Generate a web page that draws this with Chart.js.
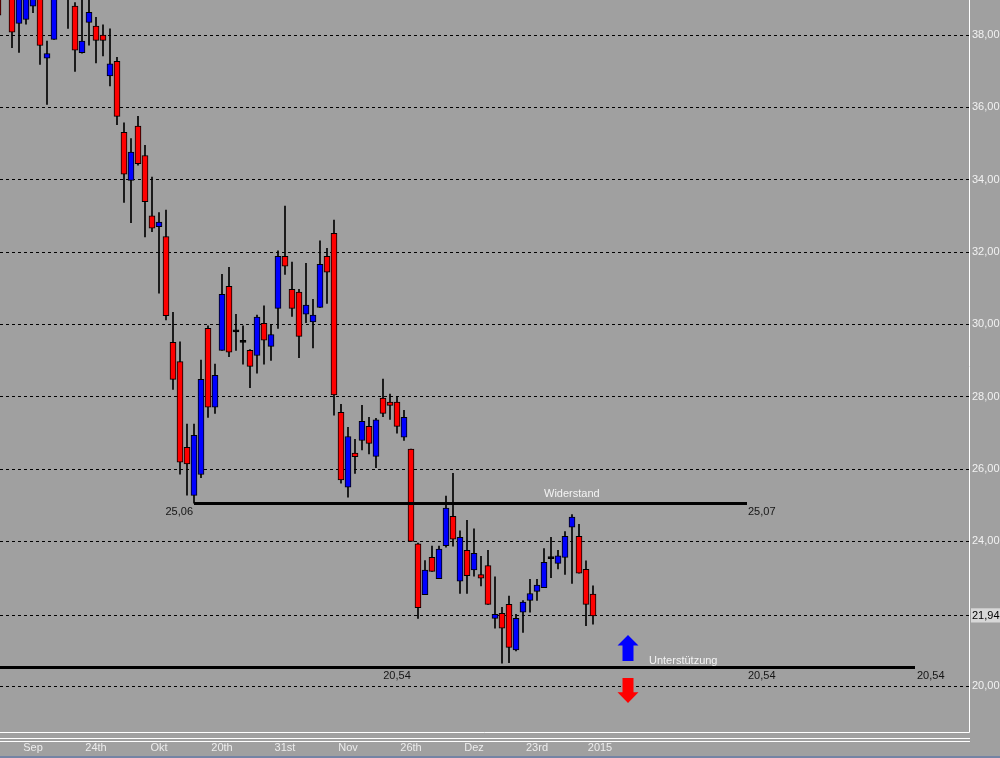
<!DOCTYPE html>
<html>
<head>
<meta charset="utf-8">
<script src="https://cdn.jsdelivr.net/npm/chart.js@4.4.1/dist/chart.umd.min.js"></script>
<style>
  html, body { margin: 0; padding: 0; background: #a0a0a0; overflow: hidden; }
  #wrap { width: 1000px; height: 758px; position: relative; }
  canvas { display: block; }
</style>
</head>
<body>
<div id="wrap"><canvas id="chart" width="1000" height="758"></canvas></div>
<script>
// daily candles, index 0..85
const opens = [
  39.30, 39.20, 39.30, 38.32, 38.43, 38.80, 39.00, 37.36, 37.88, 39.30,
  39.40, 38.80, 37.51, 38.35, 38.25, 38.00, 36.87, 37.27, 35.31, 33.98,
  35.48, 34.67, 33.00, 32.70, 32.43, 29.50, 28.97, 26.60, 25.27, 25.85,
  29.89, 27.71, 29.28, 31.05, 29.82, 29.53, 29.28, 29.14, 30.03, 29.39,
  30.44, 31.88, 30.97, 30.89, 30.28, 30.07, 30.47, 31.88, 32.52, 27.57,
  25.50, 26.44, 26.79, 27.18, 26.35, 27.96, 27.85, 27.85, 26.88, 26.55,
  23.93, 22.53, 23.56, 22.97, 23.88, 24.69, 22.90, 23.75, 23.21, 23.08,
  23.33, 21.87, 22.01, 22.26, 21.00, 22.04, 22.37, 22.62, 22.72, 23.55,
  23.39, 23.56, 24.39, 24.14, 23.23, 22.54
];
const highs = [
  39.60, 39.80, 39.60, 39.40, 39.30, 39.30, 39.30, 37.83, 39.40, 39.80,
  39.60, 38.90, 39.05, 39.00, 38.49, 38.28, 38.17, 37.38, 35.57, 35.14,
  35.75, 34.95, 34.07, 33.09, 33.16, 30.33, 29.52, 27.24, 27.24, 29.01,
  29.96, 28.90, 31.38, 31.58, 30.28, 29.96, 29.30, 30.26, 30.51, 30.00,
  32.03, 33.27, 31.72, 30.97, 31.69, 30.69, 32.31, 32.10, 32.88, 27.79,
  27.15, 26.82, 27.76, 27.43, 27.40, 28.49, 28.07, 27.98, 27.62, 26.55,
  23.95, 23.47, 23.87, 23.87, 25.25, 25.88, 24.29, 24.58, 24.35, 23.59,
  23.75, 23.02, 22.18, 22.49, 21.98, 22.36, 22.95, 22.95, 23.80, 24.11,
  23.75, 24.27, 24.74, 24.47, 23.46, 22.77
];
const lows = [
  37.64, 39.05, 37.65, 37.52, 38.30, 38.62, 37.19, 36.08, 37.88, 39.10,
  38.18, 36.99, 37.50, 37.72, 37.23, 37.42, 36.59, 35.52, 33.37, 32.81,
  34.40, 32.42, 32.56, 30.86, 30.12, 28.20, 25.86, 25.28, 25.06, 25.76,
  27.43, 27.54, 29.28, 29.11, 29.28, 28.90, 28.25, 28.65, 28.90, 29.00,
  29.89, 31.38, 30.22, 29.08, 30.05, 29.35, 30.47, 30.58, 27.49, 25.61,
  25.22, 25.88, 26.53, 26.42, 26.04, 27.45, 27.37, 26.99, 26.79, 24.00,
  21.87, 22.53, 23.17, 22.97, 23.84, 23.87, 22.56, 22.56, 23.04, 22.77,
  22.26, 21.60, 20.63, 20.65, 20.97, 21.48, 22.04, 22.37, 22.72, 23.00,
  23.24, 23.09, 22.84, 23.12, 21.67, 21.71
];
const closes = [
  38.55, 39.60, 38.08, 39.20, 39.10, 39.20, 37.71, 37.49, 39.20, 39.60,
  39.10, 37.58, 37.83, 38.63, 37.85, 37.85, 37.20, 35.75, 34.15, 34.76,
  34.44, 33.39, 32.66, 32.83, 30.24, 28.48, 26.19, 26.14, 26.93, 28.48,
  27.71, 28.59, 30.83, 29.23, 29.82, 29.53, 28.84, 30.20, 29.56, 29.72,
  31.88, 31.61, 30.44, 29.67, 30.53, 30.26, 31.66, 31.44, 28.05, 25.70,
  26.90, 26.34, 27.32, 26.71, 27.36, 27.54, 27.76, 27.18, 27.43, 24.00,
  22.17, 23.21, 23.17, 23.79, 24.92, 24.06, 24.11, 23.05, 23.67, 22.98,
  22.26, 21.98, 21.60, 21.07, 21.87, 22.32, 22.56, 22.79, 23.42, 23.55,
  23.60, 24.14, 24.67, 23.12, 22.26, 21.94
];

const xTickPos = [5, 14, 23, 32, 41, 50, 59, 68, 77, 86];
const xTickLabels = ['Sep', '24th', 'Okt', '20th', '31st', 'Nov', '26th', 'Dez', '23rd', '2015'];
const yTicks = [38, 36, 34, 32, 30, 28, 26, 24, 20];
const lastClose = 21.94;

// horizontal levels: [fromIndex, toIndex, value]
const resistance = [28, 107, 25.065];
const support = [0, 131, 20.54];
const supportLabelIdx = 57;
const arrowIdx = 90;

const FONT = "'Liberation Sans', Arial, sans-serif";
const UP = '#0000ff', DOWN = '#ff0000';

const idx = opens.map((_, i) => i);
const bodies = idx.map(i => ({
  x: i,
  y: opens[i] === closes[i] ? [opens[i] - 0.03, opens[i] + 0.03] : [opens[i], closes[i]]
}));
const wicks = idx.map(i => ({ x: i, y: [lows[i], highs[i]] }));
const bodyColor = idx.map(i => opens[i] === closes[i] ? '#000' : (closes[i] > opens[i] ? UP : DOWN));

const fmt = v => v.toFixed(2).replace('.', ',');

const decor = {
  id: 'decor',
  beforeDraw(chart) {
    const { ctx, width, height } = chart;
    ctx.save();
    ctx.fillStyle = '#a0a0a0';
    ctx.fillRect(0, 0, width, height);
    ctx.restore();
  },
  afterDatasetsDraw(chart) {
    const { ctx, chartArea } = chart;
    const xs = chart.scales.x, ys = chart.scales.y;
    ctx.save();
    ctx.beginPath();
    ctx.rect(chartArea.left, chartArea.top, chartArea.right - chartArea.left, chartArea.bottom - chartArea.top);
    ctx.clip();

    ctx.strokeStyle = '#000';
    ctx.lineWidth = 3;
    // resistance
    const ry = Math.round(ys.getPixelForValue(resistance[2])) + 0.5;
    const rx1 = xs.getPixelForValue(resistance[0]), rx2 = xs.getPixelForValue(resistance[1]);
    ctx.beginPath(); ctx.moveTo(rx1, ry); ctx.lineTo(rx2, ry); ctx.stroke();
    // support
    const sy = Math.round(ys.getPixelForValue(support[2])) + 0.5;
    const sx1 = chartArea.left, sx2 = xs.getPixelForValue(support[1]);
    ctx.beginPath(); ctx.moveTo(sx1, sy); ctx.lineTo(sx2, sy); ctx.stroke();

    ctx.font = '11px ' + FONT;
    ctx.textBaseline = 'top';
    ctx.fillStyle = '#151515';
    ctx.textAlign = 'right';
    ctx.fillText('25,06', rx1 - 1, ry + 3);
    ctx.textAlign = 'left';
    ctx.fillText('25,07', rx2 + 1, ry + 3);
    ctx.fillText(fmt(support[2]), rx2 + 1, sy + 3);
    ctx.fillText(fmt(support[2]), sx2 + 2, sy + 3);
    ctx.textAlign = 'center';
    ctx.fillText(fmt(support[2]), xs.getPixelForValue(supportLabelIdx), sy + 3);

    ctx.fillStyle = '#f4f4f4';
    ctx.textAlign = 'left';
    ctx.textBaseline = 'alphabetic';
    ctx.fillText('Widerstand', xs.getPixelForValue(78), ry - 7);
    ctx.fillText('Unterstützung', xs.getPixelForValue(93), sy - 4);

    // arrows
    const ax = xs.getPixelForValue(arrowIdx);
    const arrow = (tip, base, end, color) => {
      ctx.fillStyle = color;
      ctx.beginPath();
      ctx.moveTo(ax, tip);
      ctx.lineTo(ax + 10.5, base);
      ctx.lineTo(ax + 5.5, base);
      ctx.lineTo(ax + 5.5, end);
      ctx.lineTo(ax - 5.5, end);
      ctx.lineTo(ax - 5.5, base);
      ctx.lineTo(ax - 10.5, base);
      ctx.closePath();
      ctx.fill();
    };
    arrow(ys.getPixelForValue(21.41), ys.getPixelForValue(21.12), ys.getPixelForValue(20.69), UP);
    arrow(ys.getPixelForValue(19.53), ys.getPixelForValue(19.83), ys.getPixelForValue(20.22), DOWN);
    ctx.restore();
  },
  afterDraw(chart) {
    const { ctx, chartArea, width, height } = chart;
    ctx.save();
    ctx.strokeStyle = '#ffffff';
    ctx.lineWidth = 1;
    const r = Math.round(chartArea.right) + 0.5, b = Math.round(chartArea.bottom) + 0.5;
    ctx.beginPath();
    ctx.moveTo(r, 0); ctx.lineTo(r, b);
    ctx.moveTo(0, b); ctx.lineTo(r, b);
    ctx.moveTo(0, b + 6); ctx.lineTo(r + 0.5, b + 6);
    ctx.moveTo(0, b + 9); ctx.lineTo(r + 0.5, b + 9);
    ctx.stroke();
    ctx.fillStyle = '#7484a4';
    ctx.fillRect(0, height - 2, width, 2);
    ctx.restore();
  }
};

new Chart(document.getElementById('chart'), {
  type: 'bar',
  data: {
    datasets: [
      {
        data: bodies,
        backgroundColor: bodyColor,
        borderColor: '#000',
        borderWidth: 1,
        borderSkipped: false,
        barThickness: 6,
        grouped: false
      },
      {
        data: wicks,
        backgroundColor: '#000',
        borderWidth: 0,
        barThickness: 1,
        grouped: false
      }
    ]
  },
  options: {
    responsive: false,
    animation: false,
    events: [],
    devicePixelRatio: 1,
    layout: { padding: 0 },
    plugins: { legend: { display: false }, tooltip: { enabled: false } },
    scales: {
      x: {
        type: 'linear',
        min: 2 / 7,
        max: 971 / 7,
        offset: false,
        afterBuildTicks: s => { s.ticks = xTickPos.map(v => ({ value: v })); },
        afterFit: s => { s.height = 26; s.paddingLeft = 0; s.paddingRight = 0; },
        grid: { display: false, drawTicks: false, offset: false },
        border: { display: false },
        ticks: {
          autoSkip: false,
          maxRotation: 0,
          padding: 9,
          color: '#ececec',
          font: { size: 11, family: FONT },
          callback: (v, i) => xTickLabels[i]
        }
      },
      y: {
        type: 'linear',
        position: 'right',
        min: 18.73,
        max: 38.968,
        afterBuildTicks: s => { s.ticks = yTicks.concat([lastClose]).map(v => ({ value: v })); },
        afterFit: s => { s.width = 31; s.paddingTop = 0; s.paddingBottom = 0; },
        grid: { color: '#000', lineWidth: 1, drawTicks: false },
        border: { display: false, dash: [3, 3] },
        ticks: {
          autoSkip: false,
          padding: 3,
          font: { size: 11, family: FONT },
          color: c => c.tick && c.tick.value === lastClose ? '#000' : '#f2f2f2',
          showLabelBackdrop: c => !!(c.tick && c.tick.value === lastClose),
          backdropColor: '#d8d8d8',
          backdropPadding: { top: 1, bottom: 0, left: 1, right: 1 },
          callback: v => fmt(v)
        }
      }
    }
  },
  plugins: [decor]
});
</script>
</body>
</html>
